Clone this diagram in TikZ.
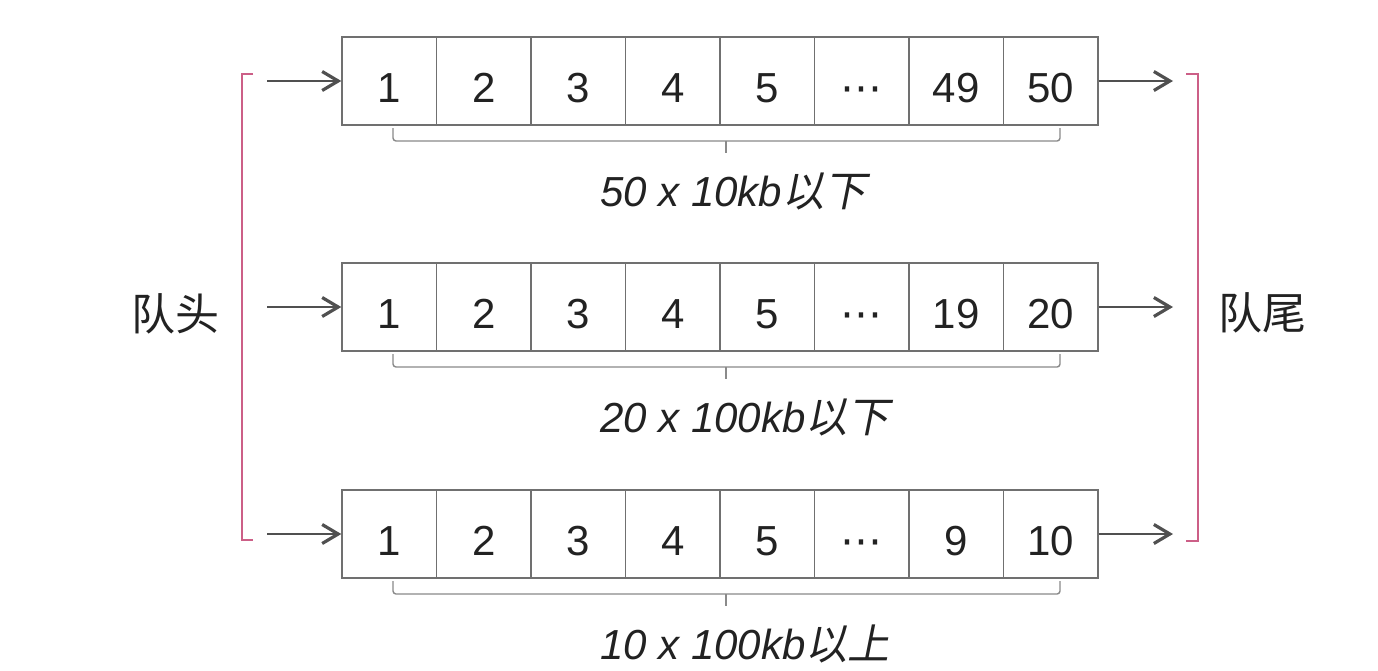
\documentclass[tikz,border=0pt]{standalone}
\usepackage{fontspec}
\setmainfont{Liberation Sans}
\newfontfamily\cjk{Noto Sans CJK SC}
\newfontfamily\cjkit[FakeSlant=0.2]{Noto Sans CJK SC}
\newfontfamily\dejavu{DejaVu Sans}
\usetikzlibrary{arrows.meta}
\definecolor{boxgray}{HTML}{707070}
\definecolor{numblack}{HTML}{222222}
\definecolor{arrgray}{HTML}{505050}
\definecolor{bracegray}{HTML}{8A8A8A}
\definecolor{pinkbr}{HTML}{CC5F87}
\begin{document}
\begin{tikzpicture}[x=1pt,y=-1pt,
  cell/.style={draw=boxgray, line width=1.4pt, minimum width=94.5pt, minimum height=88pt,
    inner sep=0pt, text height=43pt, text depth=0pt, font=\fontsize{42}{50}\selectfont, text=numblack},
  arr/.style={draw=arrgray, line width=1.8pt, -{Straight Barb[length=16pt, width=19pt, line width=3.2pt]}},
  bracestyle/.style={draw=bracegray, line width=1.4pt, rounded corners=3pt},
  bracket/.style={draw=pinkbr, line width=1.6pt},
  captext/.style={anchor=base west, inner sep=0pt, text=numblack, font=\fontsize{42}{50}\selectfont\itshape},
  side/.style={text=numblack, font=\cjk\fontsize{44}{52}\selectfont, inner sep=0pt}]
\useasboundingbox (0,0) rectangle (1378,670);
\fill[white] (0,0) rectangle (1378,670);
\foreach \r/\y/\a/\b/\ca/\cb in {1/81/49/50/{50 x 10kb}/{以下}, 2/307/19/20/{20 x 100kb}/{以下}, 3/534/9/10/{10 x 100kb}/{以上}} {
  \foreach \t [count=\i] in {1,2,3,4,5,{\dejavu ⋯},\a,\b}
    \node[cell] (r\r c\i) at ({342+94.5*(\i-0.5)},\y) {\t};
  \coordinate (in\r) at (267,\y);
  \coordinate (out\r) at (1173,\y);
  \draw[arr] (in\r) -- (r\r c1.west);
  \draw[arr] (r\r c8.east) -- (out\r);
  \draw[bracestyle] (393,\y+47) -- (393,\y+60) -- (1060,\y+60) -- (1060,\y+47);
  \draw[bracestyle] (726,\y+60) -- (726,\y+72);
  \node[captext] (cap\r) at (600,\y+125) {\ca{\cjkit\cb}};
}
\draw[bracket] (253,74) -- (242,74) -- (242,540) -- (253,540);
\draw[bracket] (1186,74) -- (1198,74) -- (1198,541) -- (1186,541);
\node[side] (head) at (175.5,314) {队头};
\node[side] (tail) at (1262,313) {队尾};
\end{tikzpicture}
\end{document}
